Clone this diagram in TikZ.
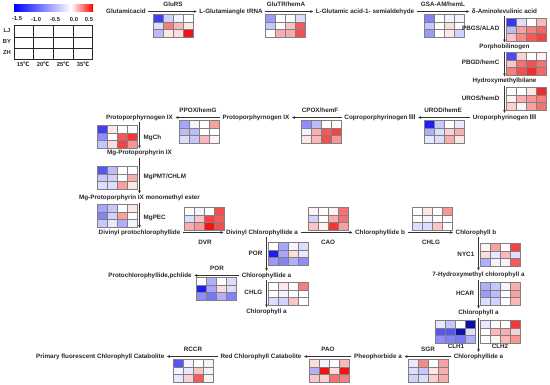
\documentclass[tikz,border=0pt]{standalone}
\usepackage{fontspec}
\setmainfont{Liberation Sans}
\newfontfamily\cjk{Noto Sans CJK SC}
\usetikzlibrary{arrows.meta}
\definecolor{hmblue}{RGB}{30,30,240}
\definecolor{hmred}{RGB}{240,20,20}
\definecolor{hmdark}{RGB}{0,0,120}
\definecolor{txt}{RGB}{40,40,40}
\newcommand{\hmcolor}[1]{%
  \pgfmathtruncatemacro{\hv}{#1}%
  \ifnum\hv<-100 \pgfmathtruncatemacro{\hw}{-\hv-100}\colorlet{hmc}{hmdark!\hw!hmblue}%
  \else\ifnum\hv<0 \pgfmathtruncatemacro{\hw}{-\hv}\colorlet{hmc}{hmblue!\hw!white}%
  \else \colorlet{hmc}{hmred!\hv!white}\fi\fi}
\newcommand{\hmap}[3]{%
  \foreach \v [count=\i from 0] in {#3} {
    \pgfmathtruncatemacro{\cc}{mod(\i,4)}
    \pgfmathtruncatemacro{\rr}{div(\i,4)}
    \hmcolor{\v}
    \filldraw[hmcell, fill=hmc] ({#1+\cc*10},{#2+\rr*7.7}) rectangle ++(10,7.7);
  }}
\begin{document}
\begin{tikzpicture}[x=1pt,y=-1pt,
  lab/.style={font=\fontsize{6.3}{7}\selectfont\bfseries, text=txt, inner xsep=2.5pt, inner ysep=1.5pt, text height=4.6pt, text depth=1.3pt},
  leg/.style={font=\fontsize{5.8}{6.5}\selectfont\bfseries, text=txt, inner sep=0.5pt},
  arr/.style={draw=black!80, line width=0.8pt, -{Stealth[length=3pt,width=2.8pt]}},
  hmcell/.style={draw=black!50, line width=0.35pt},
  legrid/.style={draw=black!85, line width=0.6pt}]
\useasboundingbox (0,0) rectangle (550,384);
\fill[white] (0,0) rectangle (550,384);

% ---------- legend ----------
\shade[left color=blue, right color=white] (14,4) rectangle (71,11);
\shade[left color=white, right color=red] (71,4) rectangle (93,11);
\node[leg] (t1) at (17,19) {-1.5};
\node[leg] (t2) at (36,19) {-1.0};
\node[leg] (t3) at (55,19) {-0.5};
\node[leg] (t4) at (74,19) {0.0};
\node[leg] (t5) at (89,19) {0.5};
\draw[legrid] (14,25) rectangle (92,59);
\draw[legrid] (33,25) -- (33,59) (53,25) -- (53,59) (73,25) -- (73,59);
\draw[legrid] (14,37) -- (92,37) (14,48) -- (92,48);
\node[leg] (rLJ) at (7,31) {LJ};
\node[leg] (rBY) at (7,42) {BY};
\node[leg] (rZH) at (7,53) {ZH};
\node[leg] (c15) at (23,64) {15{\cjk ℃}};
\node[leg] (c20) at (43,64) {20{\cjk ℃}};
\node[leg] (c25) at (63,64) {25{\cjk ℃}};
\node[leg] (c35) at (83,64) {35{\cjk ℃}};

% ---------- row 1 ----------
\node[lab] (glu) at (126,11.5) {Glutamicacid};
\node[lab] (trna) at (231,11.5) {L-Glutamiangle tRNA};
\node[lab] (gsa) at (365,11.5) {L-Glutamic acid-1- semialdehyde};
\node[lab] (ala) at (504.5,11.5) {δ-Aminolevulinic acid};
\draw[arr] (glu) -- (trna);
\draw[arr] (trna) -- (gsa);
\draw[arr] (gsa) -- (ala);
\node[lab] (eGluRS) at (173,4.5) {GluRS};
\node[lab] (eGluTR) at (286,4.5) {GluTR/hemA};
\node[lab] (eGSA) at (443,5) {GSA-AM/hemL};
\hmap{153}{14}{-85,-20,-5,0, -15,55,30,10, -30,10,15,100}
\hmap{265}{14}{-45,0,0,-15, -25,0,25,70, 0,35,35,75}
\hmap{424}{14}{-55,0,-5,-5, -25,0,15,0, -45,0,10,-20}

% ---------- right column ----------
\node[lab] (pbg) at (504.5,47) {Porphobilinogen};
\node[lab] (hmb) at (504.5,81) {Hydroxymethylbilane};
\node[lab] (uro) at (504.5,117.5) {Uroporphyrinogen {\cjk Ⅲ}};
\draw[arr] (ala) -- (pbg);
\draw[arr] (pbg) -- (hmb);
\draw[arr] (hmb) -- (uro);
\node[lab, anchor=east] (ePBGS) at (502,29) {PBGS/ALAD};
\node[lab, anchor=east] (ePBGD) at (502,63) {PBGD/hemC};
\node[lab, anchor=east] (eUROS) at (502,99) {UROS/hemD};
\hmap{506}{18}{-90,-15,0,30, -30,40,55,65, 25,50,70,80}
\hmap{506}{52}{-80,20,0,5, 25,60,75,60, 55,75,90,65}
\hmap{506}{87}{0,0,10,90, 5,35,45,55, 20,5,40,60}

% ---------- row 3 ----------
\node[lab] (copro) at (380,117.5) {Coproporphyrinogen {\cjk Ⅲ}};
\node[lab] (proto2) at (256,117.5) {Protoporphyrnogen IX};
\node[lab] (proto1) at (139.5,117.5) {Protoporphyrnogen IX};
\draw[arr] (uro) -- (copro);
\draw[arr] (copro) -- (proto2);
\draw[arr] (proto2) -- (proto1);
\node[lab] (eUROD) at (443,110.5) {UROD/hemE};
\node[lab] (eCPOX) at (320,110.5) {CPOX/hemF};
\node[lab] (ePPOX) at (198,110.5) {PPOX/hemG};
\hmap{424}{120}{-100,-25,0,-10, -35,-15,20,35, -10,-15,35,10}
\hmap{301}{120}{-50,-30,0,0, -5,35,70,80, 10,30,75,45}
\hmap{179}{120}{-40,-5,0,40, -30,-30,0,0, -15,-25,30,5}

% ---------- left column ----------
\node[lab] (mgp) at (139.5,153) {Mg-Protoporphyrin IX};
\node[lab] (mgme) at (139.5,198) {Mg-Protoporphyrin IX monomethyl ester};
\node[lab] (dpc) at (139.5,232.5) {Divinyl protochlorophyllide};
\draw[arr] (proto1) -- (mgp);
\draw[arr] (mgp) -- (mgme);
\draw[arr] (mgme) -- (dpc);
\node[lab, anchor=west] (eMgCh) at (141,138) {MgCh};
\node[lab, anchor=west] (eMgPMT) at (141,177) {MgPMT/CHLM};
\node[lab, anchor=west] (eMgPEC) at (141,218) {MgPEC};
\hmap{97}{125}{-85,10,0,0, -50,0,70,85, -25,15,80,45}
\hmap{97}{166}{-75,-30,0,0, -25,-20,0,35, -15,-15,40,10}
\hmap{97}{204}{-40,-25,0,10, -55,-20,40,0, -25,-10,-35,-5}

% ---------- row 5 ----------
\node[lab] (dca) at (262,232.5) {Divinyl Chlorophyllide a};
\node[lab] (cb) at (380,232.5) {Chlorophyllide b};
\node[lab] (chlb) at (476,232.5) {Chlorophyll b};
\draw[arr] (dpc) -- (dca);
\draw[arr] (dca) -- (cb);
\draw[arr] (cb) -- (chlb);
\node[lab] (eDVR) at (205,243) {DVR};
\node[lab] (eCAO) at (328,243) {CAO};
\node[lab] (eCHLG1) at (431,243) {CHLG};
\hmap{184}{207}{0,-5,0,75, -15,25,80,70, 35,45,100,75}
\hmap{308}{207}{5,0,5,60, -20,0,35,60, 25,5,85,40}
\hmap{412}{207}{0,10,0,45, 0,-5,0,0, -15,-15,25,0}

% ---------- middle column ----------
\node[lab] (chla1) at (266.5,275.5) {Chlorophyllide a};
\node[lab] (chla) at (266.5,312) {Chlorophyll a};
\node[lab] (pchl) at (150,275.5) {Protochlorophyllide,pchlide};
\draw[arr] (dca.south -| chla1) -- (chla1);
\draw[arr] (chla1) -- (chla);
\draw[arr] (chla1) -- (pchl);
\node[lab, anchor=east] (ePOR1) at (265,254) {POR};
\node[lab, anchor=east] (eCHLG2) at (265,293) {CHLG};
\node[lab] (ePOR2) at (217,268.5) {POR};
\hmap{268}{242}{0,-40,-5,-15, -100,-40,15,-10, -45,-55,-35,-50}
\hmap{268}{282}{0,10,0,55, 0,-5,0,0, -15,-20,25,0}
\hmap{196}{277}{0,-35,0,-15, -100,-40,15,-15, -50,-60,-35,-55}

% ---------- right column 2 ----------
\node[lab] (hyd) at (478.5,275) {7-Hydroxymethyl chlorophyll a};
\node[lab] (chla2) at (478.5,313) {Chlorophyll a};
\node[lab] (chlda) at (478.5,356.5) {Chlorophyllide a};
\draw[arr] (chlb.south -| hyd) -- (hyd);
\draw[arr] (hyd) -- (chla2);
\draw[arr] (chla2) -- (chlda);
\node[lab, anchor=east] (eNYC) at (477,255) {NYC1};
\node[lab, anchor=east] (eHCAR) at (477,294) {HCAR};
\node[lab] (eCLH1) at (456,346.5) {CLH1};
\node[lab] (eCLH2) at (500,346.5) {CLH2};
\hmap{480}{243}{5,40,0,80, 15,-10,30,-15, -35,-5,5,70}
\hmap{480}{282}{-35,-25,-5,35, -45,-30,0,40, -15,-20,0,30}
\hmap{435}{320}{-10,-25,0,-160, -75,-75,-150,-15, -50,-55,-60,-35}
\hmap{480}{320}{-10,0,0,85, 0,30,35,20, 0,5,30,45}

% ---------- bottom row ----------
\node[lab] (pheo) at (378,356.5) {Pheophorbide a};
\node[lab] (rcc) at (261,356.5) {Red Chlorophyll Catabolite};
\node[lab, anchor=east] (pfcc) at (167,356.5) {Primary fluorescent Chlorophyll Catabolite};
\draw[arr] (chlda) -- (pheo);
\draw[arr] (pheo) -- (rcc);
\draw[arr] (rcc) -- (pfcc);
\node[lab] (eSGR) at (428,350) {SGR};
\node[lab] (ePAO) at (328,350) {PAO};
\node[lab] (eRCCR) at (193,350) {RCCR};
\hmap{408}{359}{-10,50,0,40, -15,-25,10,35, -20,-15,20,35}
\hmap{309}{359}{15,-5,0,30, -35,100,15,100, 25,20,60,55}
\hmap{173}{359}{-75,-5,0,-5, -5,-10,25,-5, -10,20,70,5}
\end{tikzpicture}
\end{document}
